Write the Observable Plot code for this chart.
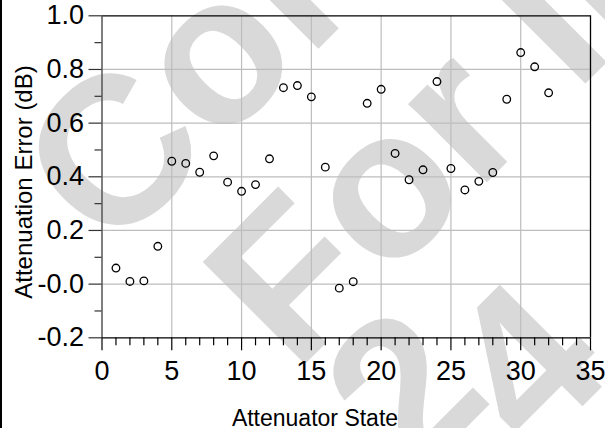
<!DOCTYPE html>
<html>
<head>
<meta charset="utf-8">
<script src="https://cdn.jsdelivr.net/npm/d3@7"></script>
<script src="https://cdn.jsdelivr.net/npm/@observablehq/plot@0.6"></script>
<style>
  html, body { margin: 0; padding: 0; background: #fff; }
  #wrap { position: relative; width: 605px; height: 428px; overflow: hidden; }
  #wrap > svg { position: absolute; left: 0; top: 0; }
  #edge { position: absolute; left: 0; top: 0; width: 2px; height: 428px; background: #000; }
</style>
</head>
<body>
<div id="wrap"></div>
<script>
// ---- data ----
const states = [1, 2, 3, 4, 5, 6, 7, 8, 9, 10, 11, 12, 13, 14, 15, 16,
                17, 18, 19, 20, 21, 22, 23, 24, 25, 26, 27, 28, 29, 30, 31, 32];
const errors = [0.060, 0.010, 0.012, 0.141, 0.458, 0.450, 0.417, 0.478,
                0.380, 0.346, 0.371, 0.467, 0.732, 0.740, 0.698, 0.436,
                -0.015, 0.009, 0.674, 0.726, 0.487, 0.389, 0.426, 0.755,
                0.431, 0.351, 0.383, 0.416, 0.689, 0.863, 0.810, 0.713];
const xMajorTicks = [0, 5, 10, 15, 20, 25, 30, 35];
const xMinorTicks = [1, 2, 3, 4, 6, 7, 8, 9, 11, 12, 13, 14, 16, 17, 18, 19,
                     21, 22, 23, 24, 26, 27, 28, 29, 31, 32, 33, 34];
const xGridTicks = [5, 10, 15, 20, 25, 30];
const yMajorTicks = [-0.2, 0.0, 0.2, 0.4, 0.6, 0.8, 1.0];
const yTickLabels = ["-0.2", "-0.0", "0.2", "0.4", "0.6", "0.8", "1.0"];
const yMinorTicks = [-0.1, 0.1, 0.3, 0.5, 0.7, 0.9];
const yGridTicks = [0.0, 0.2, 0.4, 0.6, 0.8];
const xTitle = "Attenuator State";
const yTitle = "Attenuation Error (dB)";
const watermarkLines = [["Confidential"], ["For Internal Use"], ["2", "4"]];

const points = states.map((s, i) => ({state: s, error: errors[i]}));
const font = "'Liberation Sans', Arial, Helvetica, sans-serif";

// ---- watermark layer (behind the chart) ----
const wrap = d3.select("#wrap");
const wm = wrap.append("svg").attr("width", 605).attr("height", 428);
const wmPos = [[110, 257], [295, 374], [413, 481]];
const wmShift = [[], [], [[0, 0], [-13, 67]]];
watermarkLines.forEach((parts, i) => {
  const t = wm.append("text")
    .attr("transform", `translate(${wmPos[i][0]},${wmPos[i][1]}) rotate(-45)`)
    .attr("font-family", font)
    .attr("font-weight", "bold")
    .attr("font-size", 210)
    .attr("fill", "#d9d9d9");
  parts.forEach((p, j) => {
    const s = t.append("tspan").text(p);
    if (wmShift[i][j]) s.attr("dx", wmShift[i][j][0]).attr("dy", wmShift[i][j][1]);
  });
});

// ---- chart ----
const chart = Plot.plot({
  width: 605,
  height: 428,
  marginLeft: 101.5,
  marginRight: 15,
  marginTop: 15.3,
  marginBottom: 90.7,
  x: {domain: [0, 35]},
  y: {domain: [-0.2, 1.0]},
  style: {background: "transparent", fontFamily: font, color: "#000", overflow: "visible"},
  marks: [
    Plot.gridX(xGridTicks, {stroke: "#bdbdbd", strokeOpacity: 1, strokeWidth: 1.2}),
    Plot.gridY(yGridTicks, {stroke: "#bdbdbd", strokeOpacity: 1, strokeWidth: 1.2}),
    Plot.ruleY([1.0], {stroke: "#000", strokeWidth: 1.3}),
    Plot.ruleY([-0.2], {stroke: "#000", strokeWidth: 1.3}),
    Plot.ruleX([35], {stroke: "#000", strokeWidth: 1.3}),
    Plot.ruleX([0], {stroke: "#555", strokeWidth: 1.5}),
    Plot.axisX(xMajorTicks, {tickSize: 13, tickPadding: 10, fontSize: 27, label: null, stroke: "#000", strokeWidth: 1.2}),
    Plot.axisX(xMinorTicks, {tickSize: 8, tickFormat: () => "", label: null, stroke: "#000", strokeWidth: 1.2}),
    Plot.axisY(yMajorTicks, {tickSize: 13, tickPadding: 5, fontSize: 27, label: null, stroke: "#333", strokeWidth: 1.2,
      tickFormat: d => yTickLabels[yMajorTicks.findIndex(v => Math.abs(v - d) < 1e-9)]}),
    Plot.axisY(yMinorTicks, {tickSize: 7, tickFormat: () => "", label: null, stroke: "#333", strokeWidth: 1.2}),
    Plot.dot(points, {x: "state", y: "error", r: 3.8, stroke: "#000", strokeWidth: 1.3, fill: "none"})
  ]
});
wrap.node().appendChild(chart);

const svg = d3.select(chart);
svg.append("text")
  .attr("x", 315).attr("y", 426)
  .attr("text-anchor", "middle")
  .attr("font-family", font).attr("font-size", 23).attr("fill", "#000")
  .text(xTitle);
svg.append("text")
  .attr("transform", "translate(31.5,182) rotate(-90)")
  .attr("text-anchor", "middle")
  .attr("font-family", font).attr("font-size", 24).attr("fill", "#000")
  .text(yTitle);

wrap.append("div").attr("id", "edge");
</script>
</body>
</html>
